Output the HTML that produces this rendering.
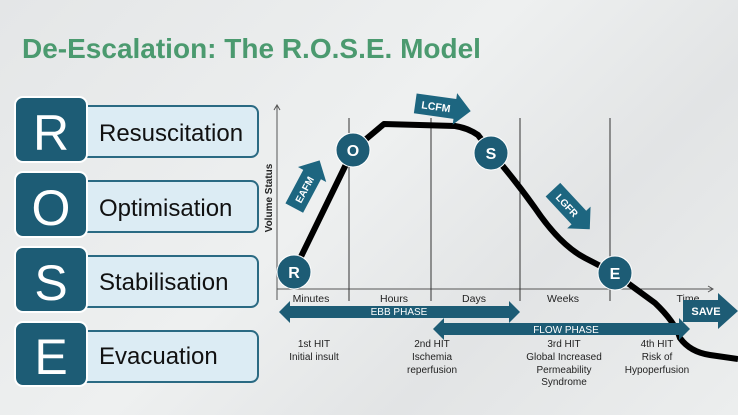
<!DOCTYPE html>
<html><head><meta charset="utf-8"><style>
html,body{margin:0;padding:0}
body{width:738px;height:415px;overflow:hidden;background:linear-gradient(135deg,#e4e6e7 0%,#eef0f0 45%,#e2e4e5 70%,#eceeee 100%);font-family:"Liberation Sans",sans-serif}
svg{display:block}
</style></head><body>
<svg width="738" height="415" viewBox="0 0 738 415" xmlns="http://www.w3.org/2000/svg" font-family="Liberation Sans, sans-serif">
<text x="22" y="58" font-size="28" font-weight="bold" fill="#4b9a6f">De-Escalation: The R.O.S.E. Model</text>
<g>
 <rect x="80" y="106" width="178" height="51" rx="7" fill="#dcecf4" stroke="#2a6a83" stroke-width="2"/>
 <rect x="15" y="97" width="72" height="65" rx="8" fill="#1d5c75" stroke="#fff" stroke-width="2"/>
 <text x="51" y="150" font-size="50" fill="#fff" text-anchor="middle">R</text>
 <text x="99" y="141" font-size="24" fill="#111">Resuscitation</text>

 <rect x="80" y="181" width="178" height="51" rx="7" fill="#dcecf4" stroke="#2a6a83" stroke-width="2"/>
 <rect x="15" y="172" width="72" height="65" rx="8" fill="#1d5c75" stroke="#fff" stroke-width="2"/>
 <text x="51" y="225" font-size="50" fill="#fff" text-anchor="middle">O</text>
 <text x="99" y="216" font-size="24" fill="#111">Optimisation</text>

 <rect x="80" y="256" width="178" height="51" rx="7" fill="#dcecf4" stroke="#2a6a83" stroke-width="2"/>
 <rect x="15" y="247" width="72" height="65" rx="8" fill="#1d5c75" stroke="#fff" stroke-width="2"/>
 <text x="51" y="300" font-size="50" fill="#fff" text-anchor="middle">S</text>
 <text x="99" y="290" font-size="24" fill="#111">Stabilisation</text>

 <rect x="80" y="331" width="178" height="51" rx="7" fill="#dcecf4" stroke="#2a6a83" stroke-width="2"/>
 <rect x="15" y="322" width="72" height="64" rx="8" fill="#1d5c75" stroke="#fff" stroke-width="2"/>
 <text x="51" y="374" font-size="50" fill="#fff" text-anchor="middle">E</text>
 <text x="99" y="364" font-size="24" fill="#111">Evacuation</text>
</g>
<g stroke="#555" stroke-width="1" fill="none">
 <line x1="277" y1="106" x2="277" y2="300"/>
 <polyline points="274,110 277,105 280,110"/>
 <line x1="277" y1="289" x2="713" y2="289"/>
 <polyline points="708,286 713,289 708,292"/>
 <line x1="349" y1="118" x2="349" y2="301" stroke="#333"/>
 <line x1="431" y1="118" x2="431" y2="301" stroke="#333"/>
 <line x1="520" y1="118" x2="520" y2="301" stroke="#333"/>
 <line x1="610" y1="118" x2="610" y2="301" stroke="#333"/>
</g>
<text transform="translate(272,198) rotate(-90)" font-size="10" font-weight="bold" fill="#222" text-anchor="middle">Volume Status</text>
<g font-size="10.5" fill="#222" text-anchor="middle">
 <text x="311" y="302">Minutes</text><text x="394" y="302">Hours</text><text x="474" y="302">Days</text><text x="563" y="302">Weeks</text><text x="688" y="302">Time</text>
</g>
<path d="M294,271 L353,150 L384,124 L455,126 Q468,128 478,135 L491,152 Q515,180 535,208 Q560,245 585,258 L614,273 L655,303 Q675,322 680,338 Q690,352 710,355 L738,359" fill="none" stroke="#000" stroke-width="6" stroke-linejoin="round"/>
<g fill="#1d5c75" stroke="#fff" stroke-width="1">
 <circle cx="294" cy="272" r="17"/><circle cx="353" cy="150" r="17"/><circle cx="491" cy="153" r="17"/><circle cx="615" cy="273" r="17"/>
</g>
<g font-size="16" font-weight="bold" fill="#fff" text-anchor="middle">
 <text x="294" y="278">R</text><text x="353" y="156">O</text><text x="491" y="159">S</text><text x="615" y="279">E</text>
</g>
<g fill="#1d6680">
 <g transform="translate(306,186) rotate(-62)"><polygon points="-25,-10 13,-10 13,-16 29,0 13,16 13,10 -25,10"/><text x="-4" y="4" font-size="10" font-weight="bold" fill="#fff" text-anchor="middle">EAFM</text></g>
 <g transform="translate(441,107) rotate(8)"><polygon points="-26,-10 14,-10 14,-16 30,0 14,16 14,10 -26,10"/><text x="-5" y="4" font-size="10.5" font-weight="bold" fill="#fff" text-anchor="middle">LCFM</text></g>
 <g transform="translate(570,208) rotate(47)"><polygon points="-25,-10 13,-10 13,-16 29,0 13,16 13,10 -25,10"/><text x="-4" y="4" font-size="10" font-weight="bold" fill="#fff" text-anchor="middle">LGFR</text></g>
</g>
<g fill="#1d5c75">
 <polygon points="279,312 290,301 290,306 509,306 509,301 520,312 509,323 509,318 290,318 290,323"/>
 <polygon points="433,329 444,318 444,323 679,323 679,318 690,329 679,340 679,335 444,335 444,340"/>
 <polygon points="683,300 718,300 718,293 738,311 718,329 718,322 683,322"/>
</g>
<g font-size="10" fill="#fff" text-anchor="middle">
 <text x="399" y="315">EBB PHASE</text>
 <text x="566" y="333">FLOW PHASE</text>
 <text x="706" y="315" font-weight="bold" font-size="11">SAVE</text>
</g>
<g font-size="10" fill="#222" text-anchor="middle">
 <text x="314" y="347">1st HIT</text><text x="314" y="360">Initial insult</text>
 <text x="432" y="347">2nd HIT</text><text x="432" y="360">Ischemia</text><text x="432" y="373">reperfusion</text>
 <text x="564" y="347">3rd HIT</text><text x="564" y="360">Global Increased</text><text x="564" y="373">Permeability</text><text x="564" y="385">Syndrome</text>
 <text x="657" y="347">4th HIT</text><text x="657" y="360">Risk of</text><text x="657" y="373">Hypoperfusion</text>
</g>
</svg>
</body></html>
